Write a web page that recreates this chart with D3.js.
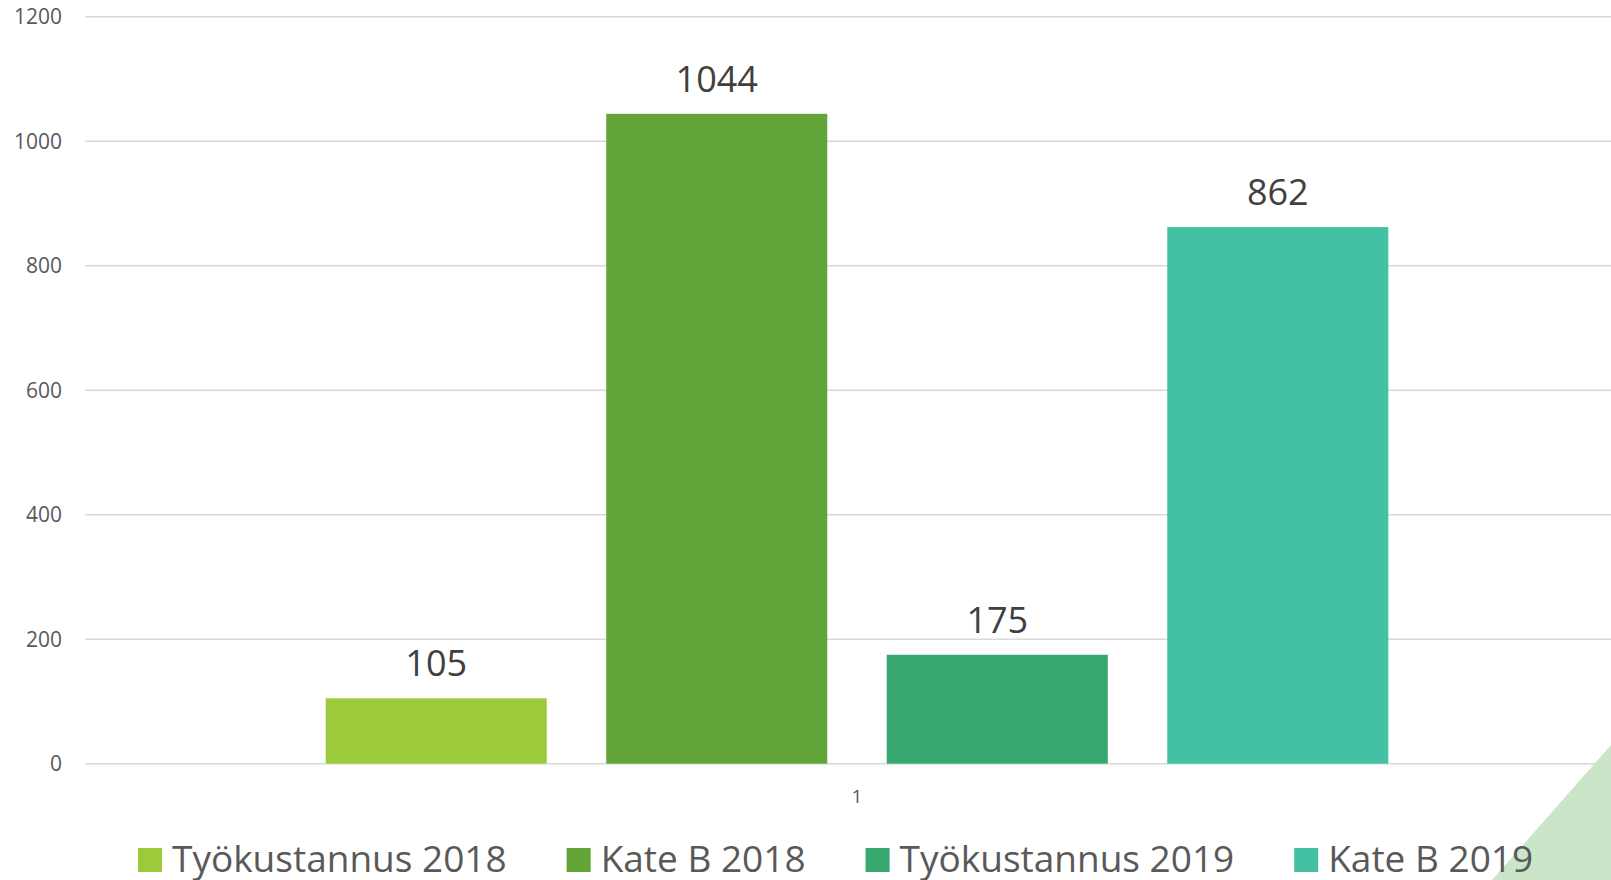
<!DOCTYPE html>
<html>
  <head>
    <meta charset="utf-8">
    <title></title>
    <script src="https://cdn.jsdelivr.net/npm/d3@7/dist/d3.min.js" charset="utf-8"></script>
    <style media="screen">
    body {margin:0; background:#fff;}
    svg {display:block; font-family:"Open Sans", sans-serif;}
    </style>
    <script>
    // data
    var categories=['1'];
    var series=['Työkustannus 2018', 'Kate B 2018', 'Työkustannus 2019', 'Kate B 2019'];
    var values=[105, 1044, 175, 862];
    var yTicks=[0, 200, 400, 600, 800, 1000, 1200];
    var colors=['#9BCB3B', '#63A538', '#37A870', '#44C1A3'];

    window.onload=function (){
      var svg=d3.select('#svg1');
      var W=1611, H=880;

      // light triangle in the corner
      svg.append('path')
      .attr('d', 'M1611,745 L1611,880 L1492,880 Z')
      .attr('fill', '#CAE5C8');

      var y=d3.scaleLinear().domain([0, 1200]).range([763.7, 16.7]);
      var x0=d3.scaleBand().domain(categories).range([85, 1629])
        .paddingInner(0).paddingOuter(0.188);
      var x1=d3.scaleBand().domain(series).range([0, x0.bandwidth()])
        .paddingInner(0.212).paddingOuter(0.106);

      // gridlines + y labels
      var gy=svg.append('g');
      gy.selectAll('line').data(yTicks).enter().append('line')
      .attr('x1', 85).attr('x2', W)
      .attr('y1', function(d){return y(d);})
      .attr('y2', function(d){return y(d);})
      .attr('stroke', '#D9D9D9').attr('stroke-width', 1.4);
      gy.selectAll('text').data(yTicks).enter().append('text')
      .attr('x', 62).attr('y', function(d){return y(d)+7.5;})
      .attr('text-anchor', 'end')
      .attr('font-size', 21).attr('fill', '#595959')
      .text(function(d){return d;});

      // bars
      var g=svg.append('g').attr('transform', 'translate('+x0(categories[0])+',0)');
      for(var i=0;i<series.length;i++){
        g.append('rect')
        .attr('x', x1(series[i]))
        .attr('y', y(values[i]))
        .attr('width', x1.bandwidth())
        .attr('height', y(0)-y(values[i]))
        .attr('fill', colors[i]);

        g.append('text')
        .attr('x', x1(series[i])+x1.bandwidth()/2)
        .attr('y', y(values[i])-22)
        .attr('text-anchor', 'middle')
        .attr('font-size', 36).attr('fill', '#404040')
        .text(values[i]);
      }

      // category label
      svg.append('text')
      .attr('x', x0(categories[0])+x0.bandwidth()/2).attr('y', 803)
      .attr('text-anchor', 'middle')
      .attr('font-size', 19).attr('fill', '#595959')
      .text(categories[0]);

      // legend
      var leg=svg.append('g');
      var lx=138;
      for(var j=0;j<series.length;j++){
        leg.append('rect')
        .attr('x', lx).attr('y', 848).attr('width', 24).attr('height', 24)
        .attr('fill', colors[j]);
        var t=leg.append('text')
        .attr('x', lx+34).attr('y', 872)
        .attr('font-size', 37).attr('fill', '#595959')
        .text(series[j]);
        lx+=34+t.node().getComputedTextLength()+60;
      }
    };
    </script>
  </head>
  <body>
    <svg id="svg1" width="1611" height="880"></svg>
  </body>
</html>
